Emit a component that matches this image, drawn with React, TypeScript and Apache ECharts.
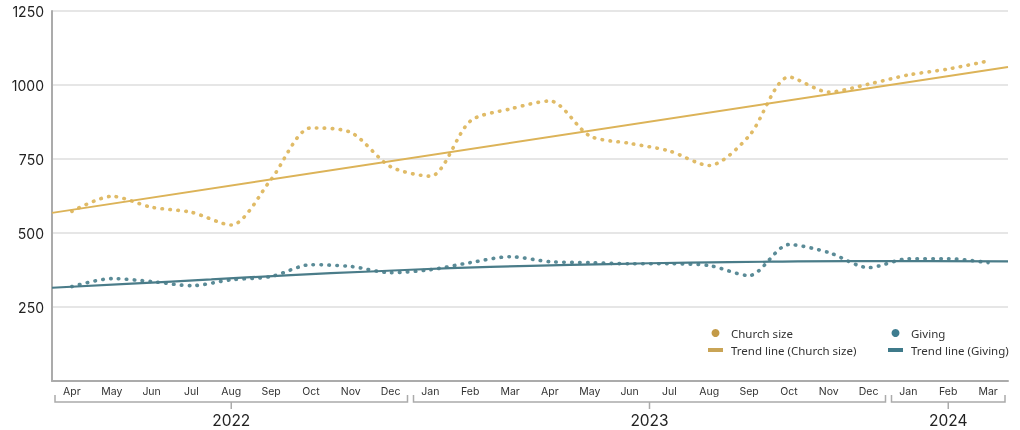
import React, { useEffect, useRef } from 'react';
import * as echarts from 'echarts';

const categories = [
  'Apr 2022', 'May 2022', 'Jun 2022', 'Jul 2022', 'Aug 2022', 'Sep 2022', 'Oct 2022', 'Nov 2022', 'Dec 2022',
  'Jan 2023', 'Feb 2023', 'Mar 2023', 'Apr 2023', 'May 2023', 'Jun 2023', 'Jul 2023', 'Aug 2023', 'Sep 2023',
  'Oct 2023', 'Nov 2023', 'Dec 2023', 'Jan 2024', 'Feb 2024', 'Mar 2024',
];

const churchSize = [573, 624, 587, 570, 527, 681, 855, 840, 724, 692, 878, 919, 946, 828, 803, 777, 728, 828, 1027, 976, 1003, 1034, 1054, 1081];
const giving = [319, 346, 336, 322, 342, 353, 393, 387, 366, 376, 400, 420, 403, 400, 396, 396, 390, 356, 461, 434, 383, 413, 413, 400];

// trend lines on a hidden value axis spanning the full plot width (0 = left edge, 24 = right edge)
const churchTrend = [[0, 568], [24, 1061]];
const givingTrend = [
  [0, 315], [2, 329], [4, 343], [6, 358], [8, 370], [10, 381], [12, 389],
  [14, 395], [16, 400], [18, 403], [20, 405], [22, 405], [24, 404],
];

const yMin = 0;
const yMax = 1250;
const yInterval = 250;

export default function App() {
  const ref = useRef<HTMLDivElement>(null);

  useEffect(() => {
    const chart = echarts.init(ref.current!, null, { renderer: 'svg' });
    const legendText = { fontFamily: 'Noto Sans', fontSize: 11.5, color: '#333', padding: [0, 0, 0, 3] };
    const option: any = {
      animation: false,
      grid: { left: 52, right: 12, top: 11, bottom: 49, containLabel: false },
      legend: [
        {
          orient: 'vertical', left: 708, top: 327, padding: 0, itemWidth: 15, itemHeight: 8, itemGap: 5,
          textStyle: legendText, selectedMode: false,
          data: [
            { name: 'Church size', icon: 'circle', itemStyle: { color: '#c39a47', borderWidth: 0 } },
            { name: 'Trend line (Church size)', icon: 'path://M0,0h15v4h-15z', itemStyle: { color: '#c9a456', borderWidth: 0 } },
          ],
        },
        {
          orient: 'vertical', left: 888, top: 327, padding: 0, itemWidth: 15, itemHeight: 8, itemGap: 5,
          textStyle: legendText, selectedMode: false,
          data: [
            { name: 'Giving', icon: 'circle', itemStyle: { color: '#3e7d90', borderWidth: 0 } },
            { name: 'Trend line (Giving)', icon: 'path://M0,0h15v4h-15z', itemStyle: { color: '#3f7a8a', borderWidth: 0 } },
          ],
        },
      ],
      xAxis: [
        {
          type: 'category', data: categories, boundaryGap: true,
          axisLine: { lineStyle: { color: '#ababab', width: 2 } },
          axisTick: { show: false },
          axisLabel: {
            formatter: (v: string) => v.split(' ')[0], color: '#333', fontFamily: 'Inter', fontSize: 10.5, margin: 5,
            interval: 0,
          },
          splitLine: { show: false },
        },
        { type: 'value', min: 0, max: 24, show: false },
      ],
      yAxis: {
        type: 'value', min: yMin, max: yMax, interval: yInterval,
        axisLine: { show: true, lineStyle: { color: '#ababab', width: 2 } },
        axisTick: { show: false },
        splitLine: { lineStyle: { color: '#e6e6e6', width: 2 } },
        axisLabel: {
          formatter: (v: number) => (v === 0 ? '' : String(v)), color: '#222', fontFamily: 'Inter', fontSize: 14, margin: 8,
        },
      },
      series: [
        {
          name: 'Church size', type: 'line', xAxisIndex: 0, data: churchSize, smooth: 0.28, symbol: 'none',
          lineStyle: { color: '#e0bb67', width: 3.6, type: [0.5, 7.4], cap: 'round' }, z: 3,
        },
        {
          name: 'Trend line (Church size)', type: 'line', xAxisIndex: 1, data: churchTrend, symbol: 'none',
          lineStyle: { color: '#dcb358', width: 2 }, z: 4,
        },
        {
          name: 'Giving', type: 'line', xAxisIndex: 0, data: giving, smooth: 0.28, symbol: 'none',
          lineStyle: { color: '#5a8b97', width: 3.6, type: [0.5, 7.4], cap: 'round' }, z: 3,
        },
        {
          name: 'Trend line (Giving)', type: 'line', xAxisIndex: 1, data: givingTrend, smooth: true, symbol: 'none',
          lineStyle: { color: '#4a7c89', width: 2.2 }, z: 4,
        },
      ],
    };
    chart.setOption(option);

    const px = (i: number) => chart.convertToPixel({ xAxisIndex: 0 }, i) as number;
    const bw = px(1) - px(0);
    const axisY = chart.convertToPixel({ yAxisIndex: 0 }, 0) as number;
    const groups: { year: string; from: number; to: number }[] = [];
    categories.forEach((c, i) => {
      const yr = c.split(' ')[1];
      const g = groups[groups.length - 1];
      if (g && g.year === yr) g.to = i;
      else groups.push({ year: yr, from: i, to: i });
    });
    const by = axisY + 21;
    const graphic: any[] = [];
    groups.forEach((g) => {
      const x0 = px(g.from) - bw / 2 + 3;
      const x1 = px(g.to) + bw / 2 - 3;
      const cx = (x0 + x1) / 2;
      graphic.push({
        type: 'polyline', silent: true,
        shape: { points: [[x0, by - 7], [x0, by], [x1, by], [x1, by - 7]] },
        style: { stroke: '#ababab', lineWidth: 1.5, fill: null },
      });
      graphic.push({
        type: 'line', silent: true,
        shape: { x1: cx, y1: by, x2: cx, y2: by + 7 },
        style: { stroke: '#ababab', lineWidth: 1.5 },
      });
      graphic.push({
        type: 'text', silent: true, x: cx, y: by + 18,
        style: {
          text: g.year, fill: '#222', fontFamily: 'Inter', fontSize: 15.5,
          align: 'center', verticalAlign: 'middle', textAlign: 'center', textVerticalAlign: 'middle',
        },
      });
    });
    chart.setOption({ graphic });

    return () => chart.dispose();
  }, []);

  return <div ref={ref} style={{ position: 'fixed', left: 0, top: 0, width: 1020, height: 430 }} />;
}
